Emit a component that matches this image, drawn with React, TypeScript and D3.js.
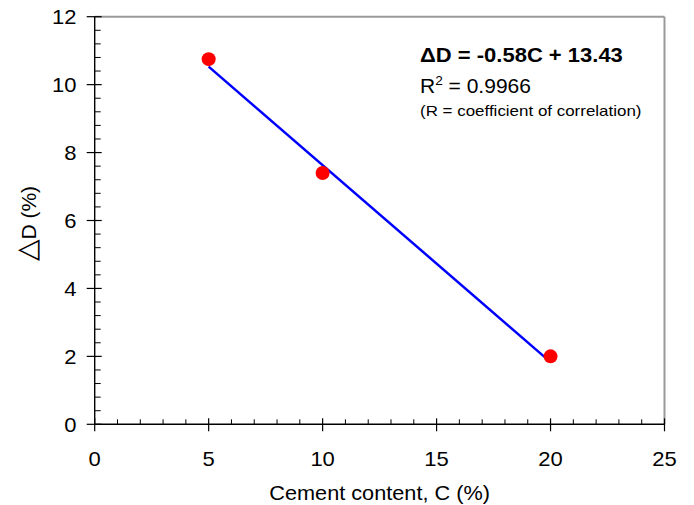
import React from "react";
import * as d3 from "d3";

const cementContent = [5, 10, 20];
const deltaD = [10.75, 7.4, 2.0];
const fitSlope = -0.58;
const fitIntercept = 13.43;
const fitRange = [5, 20];
const xTickValues = [0, 5, 10, 15, 20, 25];
const yTickValues = [0, 2, 4, 6, 8, 10, 12];
const equationText = "\u0394D = -0.58C + 13.43";
const r2Text = "0.9966";
const noteText = "(R = coefficient of correlation)";
const xTitle = "Cement content, C (%)";
const yTitleSymbol = "\u25B3";
const yTitleRest = "D (%)";

const W = 694;
const H = 505;
const left = 94.7;
const right = 664.5;
const top = 16.7;
const bottom = 424.3;
const FONT = "'Liberation Sans', Arial, Helvetica, sans-serif";

function SText(props: {
  x: number;
  y: number;
  sx: number;
  anchor?: string;
  size: number;
  weight?: string;
  dy?: string;
  children: React.ReactNode;
}) {
  return (
    <text
      transform={`translate(${props.x},${props.y}) scale(${props.sx},1)`}
      textAnchor={props.anchor ?? "start"}
      fontSize={props.size}
      fontWeight={props.weight ?? "normal"}
      dy={props.dy}
      fill="#000"
    >
      {props.children}
    </text>
  );
}

export default function App() {
  const x = d3.scaleLinear().domain([0, 25]).range([left, right]);
  const y = d3.scaleLinear().domain([0, 12]).range([bottom, top]);
  const xMinor = d3.range(0, 25.001, 1).filter((v) => v % 5 !== 0);
  const yMinor = d3.range(0, 12.001, 0.4).filter((v) => Math.abs(v / 2 - Math.round(v / 2)) > 1e-6);
  const line = d3
    .line<number>()
    .x((d) => x(d))
    .y((d) => y(fitSlope * d + fitIntercept));

  return (
    <svg
      width={W}
      height={H}
      style={{ position: "absolute", left: 0, top: 0, background: "#fff" }}
      fontFamily={FONT}
    >
      {/* frame top/right */}
      <line x1={left} x2={right} y1={top} y2={top} stroke="#9a9a9a" strokeWidth={2} />
      <line x1={right} x2={right} y1={top} y2={bottom} stroke="#9a9a9a" strokeWidth={2} />

      {/* y axis */}
      <line x1={left} x2={left} y1={top} y2={bottom} stroke="#000" strokeWidth={1.4} />
      {yMinor.map((v) => (
        <line key={"ym" + v} x1={left} x2={left + 6} y1={y(v)} y2={y(v)} stroke="#000" strokeWidth={1} />
      ))}
      {yTickValues.map((v) => (
        <g key={"y" + v}>
          <line x1={left - 8} x2={left + 7} y1={y(v)} y2={y(v)} stroke="#000" strokeWidth={1.2} />
          <SText x={76.5} y={y(v)} sx={1.1} anchor="end" size={20} dy="0.36em">
            {v}
          </SText>
        </g>
      ))}

      {/* x axis */}
      <line x1={left} x2={right} y1={bottom} y2={bottom} stroke="#000" strokeWidth={1.4} />
      {xMinor.map((v) => (
        <line key={"xm" + v} x1={x(v)} x2={x(v)} y1={bottom - 5} y2={bottom} stroke="#000" strokeWidth={1} />
      ))}
      {xTickValues.map((v) => (
        <g key={"x" + v}>
          <line x1={x(v)} x2={x(v)} y1={bottom - 6} y2={bottom + 7} stroke="#000" strokeWidth={1.2} />
          <SText x={x(v)} y={466} sx={1.1} anchor="middle" size={20}>
            {v}
          </SText>
        </g>
      ))}

      {/* titles */}
      <SText x={(left + right) / 2} y={500} sx={1.085} anchor="middle" size={20}>
        {xTitle}
      </SText>
      <text
        transform={`translate(36,223.5) rotate(-90)`}
        textAnchor="middle"
        fontSize={21}
        fill="#000"
      >
        <tspan fontSize={28} fontFamily="'DejaVu Sans', sans-serif">{yTitleSymbol}</tspan>
        <tspan>{yTitleRest}</tspan>
      </text>

      {/* fit line */}
      <path d={line(fitRange) ?? ""} stroke="#0000ff" strokeWidth={2.5} fill="none" />

      {/* points */}
      {cementContent.map((c, i) => (
        <circle key={"p" + i} cx={x(c)} cy={y(deltaD[i])} r={7} fill="#ff0000" />
      ))}

      {/* annotation */}
      <SText x={420} y={61.7} sx={1.1} size={20} weight="bold">
        {equationText}
      </SText>
      <SText x={420} y={93.3} sx={1.05} size={20}>
        R<tspan fontSize={13} dy={-8}>2</tspan>
        <tspan dy={8}> = {r2Text}</tspan>
      </SText>
      <SText x={420} y={116} sx={1.13} size={15}>
        {noteText}
      </SText>
    </svg>
  );
}
